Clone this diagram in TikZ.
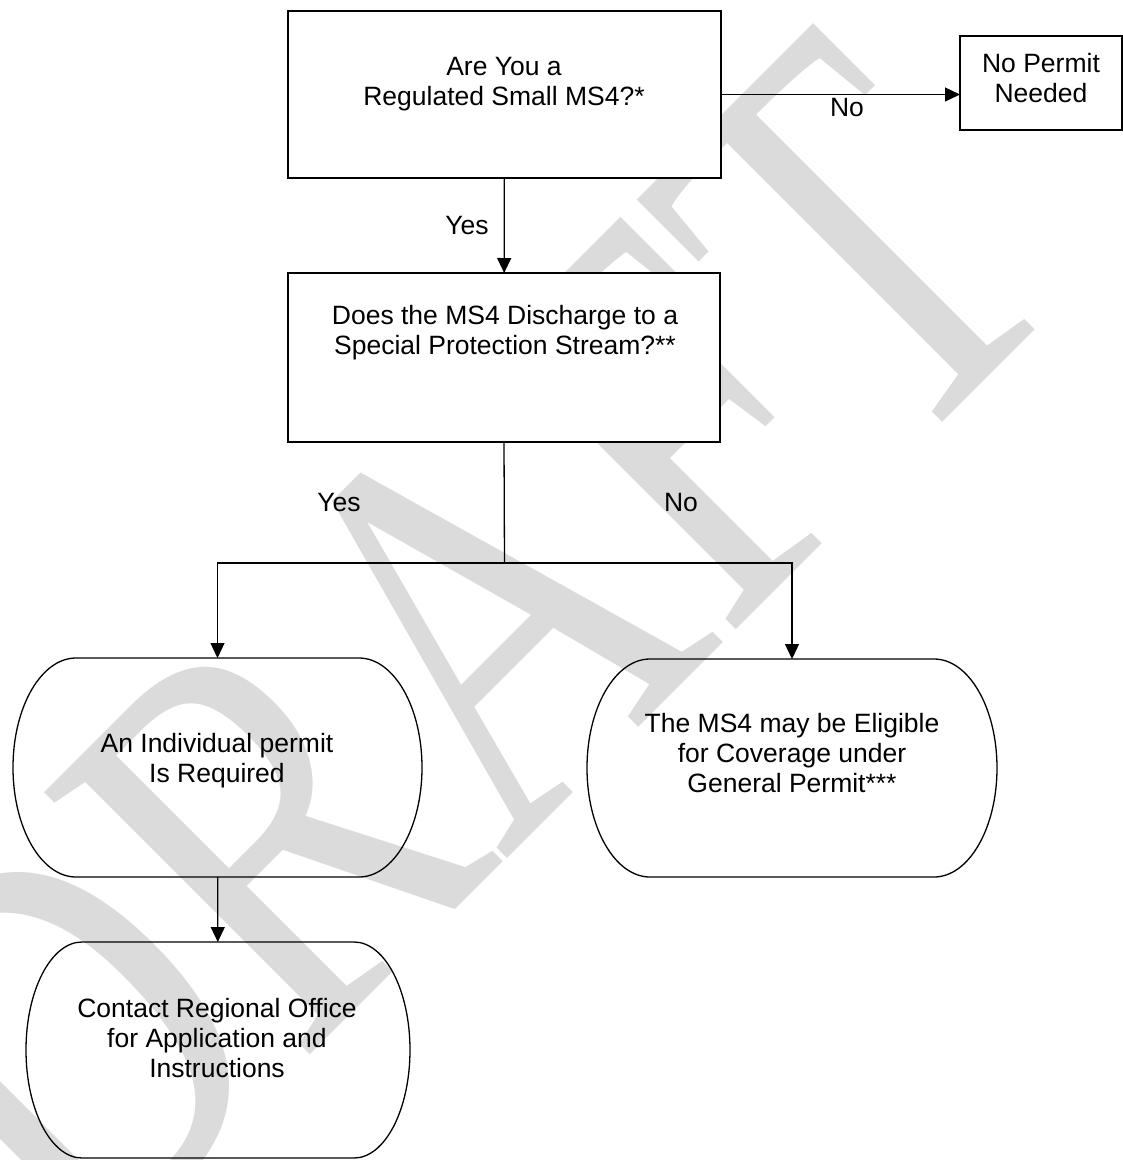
\documentclass[tikz,border=0pt]{standalone}
\usepackage{fontspec}
\setmainfont{Liberation Sans}
\newfontfamily\draftfont{Liberation Serif}
\usetikzlibrary{arrows.meta,calc}

% outline with flat top/bottom and elliptic sides, drawn round a named node
\newcommand{\capsule}[2]{%
  \draw[line width=1.3pt] let \p1=(#1.north), \p2=(#1.south), \n1={(\y1-\y2)/2} in
    ([xshift=#2pt]#1.north west) -- ([xshift=-#2pt]#1.north east)
    arc[start angle=90, end angle=-90, x radius=#2pt, y radius=\n1]
    -- ([xshift=#2pt]#1.south west)
    arc[start angle=270, end angle=90, x radius=#2pt, y radius=\n1] -- cycle;}

\begin{document}
\begin{tikzpicture}[x=1pt, y=1pt,
    txt/.style={align=center, font=\fontsize{26.5}{30}\selectfont, inner sep=0},
    arr/.style={line width=1.3pt, -{Triangle[length=15pt,width=14pt]}}]

        \useasboundingbox (0,0) rectangle (1123,-1160);

        % watermark
        \begin{scope}
          \clip (0,0) rectangle (1123,-1160);
          \node[rotate=45, xscale=0.76, text=black!14, inner sep=0,
                font=\draftfont\fontsize{570}{570}\selectfont] (wm) at (448,-652) {DRAFT};
        \end{scope}

        \begin{scope}[every node/.style={rectangle, draw, fill=white, line width=1.6pt,
                                         inner sep=0, outer sep=0}]
          \node[minimum width=433, minimum height=167] (q1) at (504.5,-94.5) {};
          \node[minimum width=162, minimum height=94]  (np) at (1041,-83)    {};
          \node[minimum width=432, minimum height=169] (q2) at (504,-357.5)  {};
        \end{scope}

        \begin{scope}[every node/.style={rectangle, inner sep=0, outer sep=0}]
          \node[minimum width=409, minimum height=219] (ind)     at (217.5,-767.5) {};
          \node[minimum width=410, minimum height=218] (elig)    at (792,-768)     {};
          \node[minimum width=384, minimum height=216] (contact) at (218,-1050)    {};
        \end{scope}

        \capsule{ind}{63}
        \capsule{elig}{63}
        \capsule{contact}{56}

        \node[txt] (q1t)      at (504,-84.5)  {Are You a\\Regulated Small MS4?*};
        \node[txt] (npt)      at (1041,-78)   {No Permit\\Needed};
        \node[txt] (q2t)      at (505,-333)   {Does the MS4 Discharge to a\\Special Protection Stream?**};
        \node[txt] (indt)     at (217,-760.5) {An Individual permit\\Is Required};
        \node[txt] (eligt)    at (792,-753)   {The MS4 may be Eligible\\for Coverage under\\General Permit***};
        \node[txt] (contactt) at (217,-1038)  {Contact Regional Office\\for Application and\\Instructions};

        \coordinate (split) at (504.5,-563);

        \draw[arr] (q1.east) -- (q1.east -| np.west);
        \draw[arr] (q1) -- (q2);
        \draw[line width=1.3pt] (q2.south) -- (split);
        \draw[arr] (split) -| (ind.north);
        \draw[arr] (split) -| (elig.north);
        \draw[arr] (ind) -- (contact);

        \node[txt] (no1)  at (847,-108) {No};
        \node[txt] (yes1) at (467,-226) {Yes};
        \node[txt] (yes2) at (339,-503) {Yes};
        \node[txt] (no2)  at (681,-503) {No};

\end{tikzpicture}
\end{document}
